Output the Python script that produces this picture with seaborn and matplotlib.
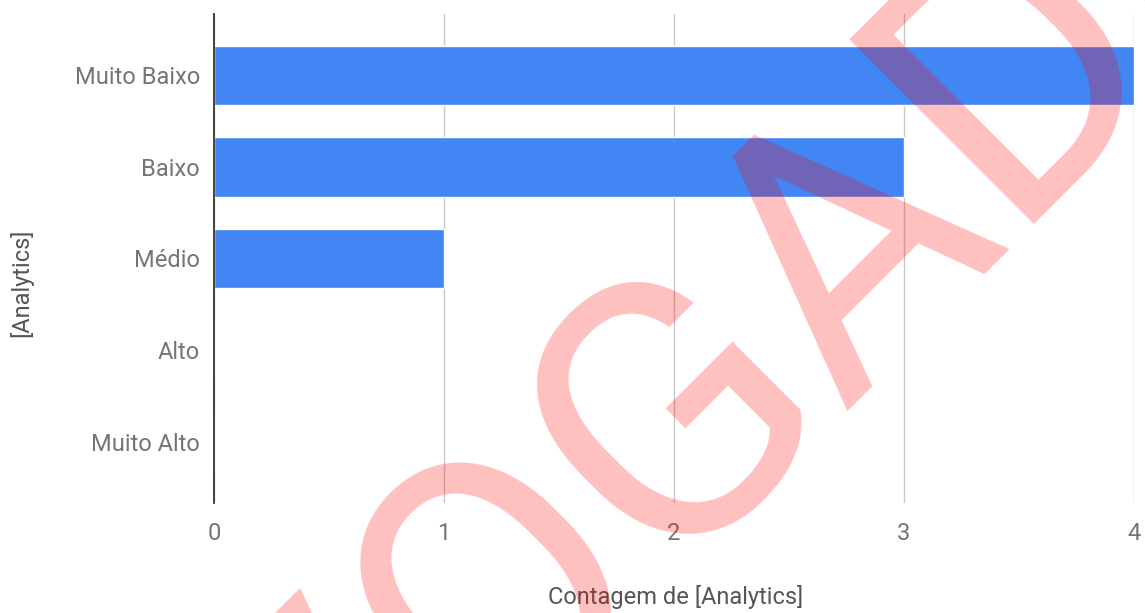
import matplotlib
matplotlib.use('Agg')
import matplotlib.pyplot as plt
import seaborn as sns
import pandas as pd

# Dados do gráfico
categorias = ['Muito Baixo', 'Baixo', 'Médio', 'Alto', 'Muito Alto']
contagem = [4, 3, 1, 0, 0]
ticks_x = [0, 1, 2, 3, 4]

df = pd.DataFrame({'nivel': categorias, 'contagem': contagem})

sns.set_style('whitegrid')
plt.rcParams['font.family'] = ['Roboto', 'DejaVu Sans']

fig = plt.figure(figsize=(11.45, 6.13), dpi=100)
ax = fig.add_axes([214 / 1145, 1 - 503 / 613, 920 / 1145, 489 / 613])

sns.barplot(data=df, x='contagem', y='nivel', orient='h', order=categorias,
            color='#4285F4', saturation=1, width=0.645, ax=ax)

ax.set_xlim(0, 4)
ax.set_ylim(4.672, -0.672)
ax.set_xticks(ticks_x)
ax.set_xticklabels([str(t) for t in ticks_x])

# Grade e eixos no estilo do Google Sheets
ax.grid(False)
ax.xaxis.grid(True, color='#c8c8c8', linewidth=1)
for lado in ['top', 'right', 'bottom']:
    ax.spines[lado].set_visible(False)
ax.spines['left'].set_color('#333333')
ax.spines['left'].set_linewidth(1.3)
ax.set_axisbelow(True)

ax.tick_params(axis='both', length=0, labelsize=17, labelcolor='#757575')
ax.tick_params(axis='x', pad=14)
ax.tick_params(axis='y', pad=10)

ax.set_xlabel('Contagem de [Analytics]', fontsize=17, color='#555555')
ax.set_ylabel('[Analytics]', fontsize=17, color='#555555')
ax.xaxis.set_label_coords(0.502, -0.167)
ax.yaxis.set_label_coords(-0.196, 0.45)

# Marca d'água (cortada nas bordas, como no original)
fig.text(601 / 1145, 1 - 510 / 613, 'ADVOGADO', fontsize=264, color='red',
         alpha=0.25, rotation=45, rotation_mode='anchor', ha='center',
         va='center', zorder=10)

fig.savefig('out.png', dpi=100)
